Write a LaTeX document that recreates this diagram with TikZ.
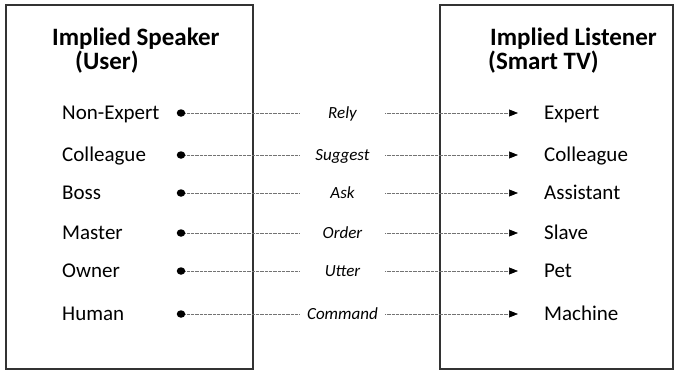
\documentclass[tikz,border=0pt]{standalone}
\usepackage{fontspec}
\setmainfont{Carlito}
\usetikzlibrary{arrows.meta,shapes.geometric}

\begin{document}
\begin{tikzpicture}[x=1pt, y=-1pt,
    panel/.style={draw=black!80, line width=1.1pt},
    heading/.style={anchor=base west, inner sep=0pt, font=\fontsize{25}{30}\selectfont\bfseries},
    role/.style={anchor=base west, inner sep=0pt, font=\fontsize{21}{25}\selectfont},
    acttext/.style={inner sep=0pt, minimum width=85pt, text height=11pt, text depth=0pt, font=\fontsize{17}{20}\selectfont\itshape},
    link/.style={black!55, line width=0.6pt, dash pattern=on 0.7pt off 0.6pt},
    startdot/.style={ellipse, fill=black, inner sep=0pt, minimum width=8.5pt, minimum height=7.5pt}]

    % Page frame: same size as the picture
    \useasboundingbox (0,0) rectangle (677,372);

    % Speaker panel (left) and listener panel (right)
    \draw[panel] (6,5) rectangle (253,369);
    \draw[panel] (440,5) rectangle (673,369);

    % Panel headings
    \node[heading] (spkA) at (52,45) {Implied Speaker};
    \node[heading] (spkB) at (75,69) {(User)};
    \node[heading] (lstA) at (490,45) {Implied Listener};
    \node[heading] (lstB) at (488,69) {(Smart TV)};

    % One row per role pair: speaker role, dot, speech act, arrow, listener role
    \foreach \y/\who/\acts/\whom [count=\i] in {113/Non-Expert/Rely/Expert,
        155/Colleague/Suggest/Colleague, 193/Boss/Ask/Assistant,
        233/Master/Order/Slave, 271/Owner/Utter/Pet, 314/Human/Command/Machine}
    {
        \node[role] (spk\i) at (62,\y+6.5) {\who};
        \node[startdot] (dot\i) at (181,\y) {};
        \node[acttext] (act\i) at (342.5,\y) {\acts};
        \node[role] (lst\i) at (544,\y+6.5) {\whom};
        \coordinate (tip\i) at (518,\y);
        \draw[link] (dot\i) -- (act\i.west);
        \draw[link, -{Triangle[black, length=9pt, width=7pt]}] (act\i.east) -- (tip\i);
    }
\end{tikzpicture}
\end{document}
